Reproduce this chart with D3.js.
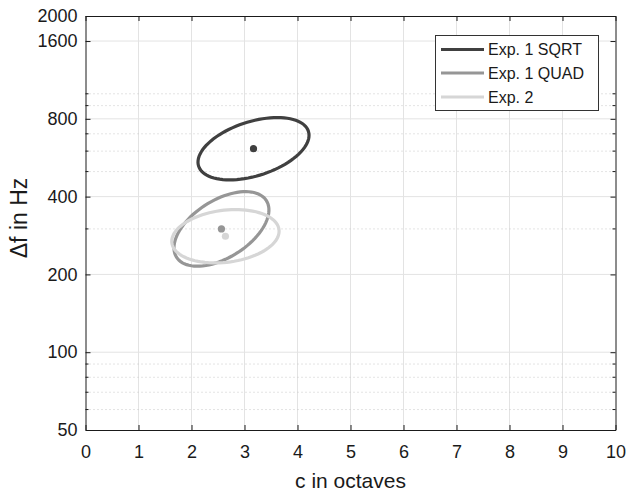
<!DOCTYPE html>
<html>
<head>
<meta charset="utf-8">
<script src="https://cdn.jsdelivr.net/npm/d3@7"></script>
<style>
  body { margin: 0; background: #fff; }
  text { font-family: "Liberation Sans", Arial, sans-serif; fill: #1a1a1a; }
</style>
</head>
<body>
<div id="chart-area"></div>
<script>
// groups shown in the legend
var groups = ["Exp. 1 SQRT", "Exp. 1 QUAD", "Exp. 2"];
var colors = ["#404040", "#969696", "#d6d6d6"];

// ellipse centres (mean values)
var centerOct = [3.17, 2.565, 2.64];
var centerHz = [613, 300, 281];

// semi-axis vectors of each ellipse: [octaves, decades of Hz]
var majorAxis = [[1.036, 0.0674], [0.848, 0.1095], [1.011, 0.0257]];
var minorAxis = [[0.155, -0.100], [0.289, -0.094], [0.061, -0.100]];

// ticks
var xTicks = [0, 1, 2, 3, 4, 5, 6, 7, 8, 9, 10];
var yTicks = [50, 100, 200, 400, 800, 1600, 2000];
var yMajorGrid = [100, 200, 400, 800, 1600];
var yMinor = [60, 70, 80, 90, 300, 500, 600, 700, 900, 1000];

var W = 627, H = 493;
var margin = {top: 16, bottom: 63, left: 85.5, right: 11.5};
var width = W - margin.left - margin.right;
var height = H - margin.top - margin.bottom;

var svg = d3.select("#chart-area")
  .append("svg")
  .attr("width", W)
  .attr("height", H);

var g = svg.append("g")
  .attr("transform", "translate(" + margin.left + "," + margin.top + ")");

var x = d3.scaleLinear().domain([0, 10]).range([0, width]);
var y = d3.scaleLog().domain([50, 2000]).range([height, 0]);

// grid
var grid = g.append("g").attr("class", "grid");
grid.selectAll(".xg")
  .data(xTicks.slice(1, -1))
  .enter().append("line")
  .attr("x1", d => x(d)).attr("x2", d => x(d))
  .attr("y1", 0).attr("y2", height)
  .attr("stroke", "#e3e3e3").attr("stroke-width", 1);
grid.selectAll(".yg")
  .data(yMajorGrid)
  .enter().append("line")
  .attr("x1", 0).attr("x2", width)
  .attr("y1", d => y(d)).attr("y2", d => y(d))
  .attr("stroke", "#e3e3e3").attr("stroke-width", 1);
grid.selectAll(".ym")
  .data(yMinor)
  .enter().append("line")
  .attr("x1", 0).attr("x2", width)
  .attr("y1", d => y(d)).attr("y2", d => y(d))
  .attr("stroke", "#c8c8c8").attr("stroke-width", 1)
  .attr("stroke-dasharray", "1,3");

// axes
function styleAxis(sel) {
  sel.select(".domain").attr("stroke", "#1a1a1a");
  sel.selectAll(".tick line").attr("stroke", "#1a1a1a");
  sel.selectAll("text").attr("font-size", "18px").attr("fill", "#1a1a1a")
    .attr("font-family", "'Liberation Sans', Arial, sans-serif");
}

g.append("g")
  .attr("transform", "translate(0," + height + ")")
  .call(d3.axisBottom(x).tickValues(xTicks).tickFormat(d3.format("d"))
    .tickSizeInner(-5).tickSizeOuter(0).tickPadding(15))
  .call(styleAxis);

g.append("g")
  .call(d3.axisTop(x).tickValues(xTicks).tickFormat("")
    .tickSizeInner(-5).tickSizeOuter(0))
  .call(styleAxis);

g.append("g")
  .call(d3.axisLeft(y).tickValues(yTicks).tickFormat(d3.format("d"))
    .tickSizeInner(-5).tickSizeOuter(0).tickPadding(8))
  .call(styleAxis);

g.append("g")
  .attr("transform", "translate(" + width + ",0)")
  .call(d3.axisRight(y).tickValues(yTicks).tickFormat("")
    .tickSizeInner(-5).tickSizeOuter(0))
  .call(styleAxis);

// minor ticks on left and right
g.selectAll(".mtl")
  .data(yMinor)
  .enter().append("line")
  .attr("x1", 0).attr("x2", 3)
  .attr("y1", d => y(d)).attr("y2", d => y(d))
  .attr("stroke", "#1a1a1a");
g.selectAll(".mtr")
  .data(yMinor)
  .enter().append("line")
  .attr("x1", width - 3).attr("x2", width)
  .attr("y1", d => y(d)).attr("y2", d => y(d))
  .attr("stroke", "#1a1a1a");

// ellipses
var angles = d3.range(0, 361, 4).map(a => a * Math.PI / 180);
var line = d3.line()
  .x(d => x(d[0]))
  .y(d => y(d[1]))
  .curve(d3.curveLinearClosed);

groups.forEach((name, i) => {
  var pts = angles.map(t => [
    centerOct[i] + majorAxis[i][0] * Math.cos(t) + minorAxis[i][0] * Math.sin(t),
    centerHz[i] * Math.pow(10, majorAxis[i][1] * Math.cos(t) + minorAxis[i][1] * Math.sin(t))
  ]);
  g.append("path")
    .datum(pts)
    .attr("d", line)
    .attr("fill", "none")
    .attr("stroke", colors[i])
    .attr("stroke-width", 3.2);
});

// mean dots
g.selectAll(".dot")
  .data(groups)
  .enter().append("circle")
  .attr("cx", (d, i) => x(centerOct[i]))
  .attr("cy", (d, i) => y(centerHz[i]))
  .attr("r", 3.6)
  .attr("fill", (d, i) => colors[i]);

// axis labels
svg.append("text")
  .attr("x", margin.left + width / 2)
  .attr("y", 488)
  .attr("text-anchor", "middle")
  .attr("font-size", "21px")
  .text("c in octaves");

svg.append("text")
  .attr("transform", "translate(27,218) rotate(-90)")
  .attr("text-anchor", "middle")
  .attr("font-size", "23px")
  .text("\u0394f in Hz");

// legend
var legend = svg.append("g").attr("class", "legend");
legend.append("rect")
  .attr("x", 435.5).attr("y", 35.5)
  .attr("width", 163).attr("height", 75)
  .attr("fill", "#fff")
  .attr("stroke", "#333").attr("stroke-width", 1);

var rowY = [49.5, 73, 97];
groups.forEach((name, i) => {
  legend.append("line")
    .attr("x1", 441).attr("x2", 484)
    .attr("y1", rowY[i]).attr("y2", rowY[i])
    .attr("stroke", colors[i]).attr("stroke-width", 3.2);
  legend.append("text")
    .attr("x", 488)
    .attr("y", rowY[i])
    .attr("dy", "0.36em")
    .attr("font-size", "16px")
    .text(name);
});
</script>
</body>
</html>
